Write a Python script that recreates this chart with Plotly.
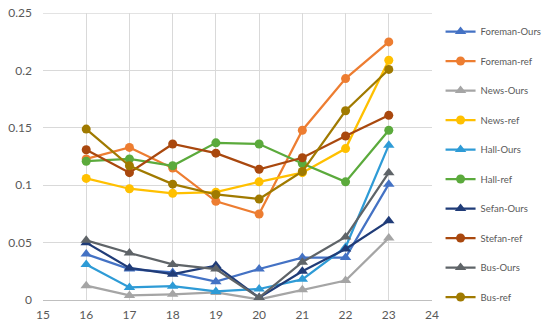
import plotly.graph_objects as go

x_values = [16, 17, 18, 19, 20, 21, 22, 23]
x_ticks = [15, 16, 17, 18, 19, 20, 21, 22, 23, 24]
y_ticks = [0, 0.05, 0.1, 0.15, 0.2, 0.25]
y_tick_labels = ["0", "0.05", "0.1", "0.15", "0.2", "0.25"]

foreman_ours = [0.040, 0.027, 0.024, 0.016, 0.027, 0.037, 0.037, 0.101]
foreman_ref = [0.123, 0.133, 0.115, 0.086, 0.075, 0.148, 0.193, 0.225]
news_ours = [0.0125, 0.004, 0.005, 0.0066, 0.0005, 0.009, 0.017, 0.054]
news_ref = [0.106, 0.097, 0.093, 0.094, 0.103, 0.111, 0.132, 0.209]
hall_ours = [0.031, 0.011, 0.012, 0.0075, 0.0096, 0.018, 0.046, 0.135]
hall_ref = [0.121, 0.123, 0.117, 0.137, 0.136, 0.119, 0.103, 0.148]
sefan_ours = [0.050, 0.028, 0.0225, 0.030, 0.002, 0.025, 0.0445, 0.069]
stefan_ref = [0.131, 0.111, 0.136, 0.128, 0.114, 0.124, 0.143, 0.161]
bus_ours = [0.052, 0.041, 0.031, 0.027, 0.002, 0.033, 0.055, 0.111]
bus_ref = [0.149, 0.117, 0.101, 0.092, 0.088, 0.112, 0.165, 0.201]

series = [
    ("Foreman-Ours", foreman_ours, "#4472C4", "triangle-up"),
    ("Foreman-ref", foreman_ref, "#ED7D31", "circle"),
    ("News-Ours", news_ours, "#A5A5A5", "triangle-up"),
    ("News-ref", news_ref, "#FFC000", "circle"),
    ("Hall-Ours", hall_ours, "#2E9BD6", "triangle-up"),
    ("Hall-ref", hall_ref, "#5BAA3C", "circle"),
    ("Sefan-Ours", sefan_ours, "#203C78", "triangle-up"),
    ("Stefan-ref", stefan_ref, "#A9480E", "circle"),
    ("Bus-Ours", bus_ours, "#5F6468", "triangle-up"),
    ("Bus-ref", bus_ref, "#A07A00", "circle"),
]

fig = go.Figure()
for i, (name, vals, color, sym) in enumerate(series):
    fig.add_trace(go.Scatter(
        x=x_values, y=vals, name=name, mode="lines+markers",
        line=dict(color=color, width=2.25),
        marker=dict(color=color, symbol=sym, size=9 if sym == "circle" else 10),
        legendgroup=f"g{i}",
    ))

# top gridline (drawn explicitly since it sits on the plot edge)
fig.add_shape(type="line", xref="paper", x0=0, x1=1, yref="y",
              y0=y_ticks[-1], y1=y_ticks[-1],
              line=dict(color="#D9D9D9", width=1), layer="below")

font_family = "Lato, Carlito, 'Liberation Sans', sans-serif"
fig.update_layout(
    width=542, height=313,
    margin=dict(l=35, r=118, t=5, b=21, autoexpand=False),
    paper_bgcolor="white", plot_bgcolor="white",
    font=dict(family=font_family, color="#595959", size=12),
    showlegend=True,
    legend=dict(
        x=1.022, xanchor="left", y=0.986, yanchor="top",
        font=dict(size=9.5, color="#595959"),
        tracegroupgap=10.5,
        bgcolor="rgba(0,0,0,0)",
        maxheight=1.0,
    ),
    xaxis=dict(
        range=[15, 24], tickmode="array", tickvals=x_ticks,
        showgrid=True, gridcolor="#D9D9D9", gridwidth=1,
        zeroline=False, showline=True, linecolor="#BFBFBF",
        ticks="", tickfont=dict(size=12, color="#595959"),
        ticklabelstandoff=4, ticklabeloverflow="allow",
    ),
    yaxis=dict(
        range=[0, 0.2502], tickmode="array", tickvals=y_ticks,
        ticktext=y_tick_labels,
        showgrid=True, gridcolor="#D9D9D9", gridwidth=1,
        zeroline=False, showline=False,
        ticks="", tickfont=dict(size=12, color="#595959"),
        ticklabelstandoff=10, ticklabeloverflow="allow",
    ),
)

fig.write_html("out.html")
